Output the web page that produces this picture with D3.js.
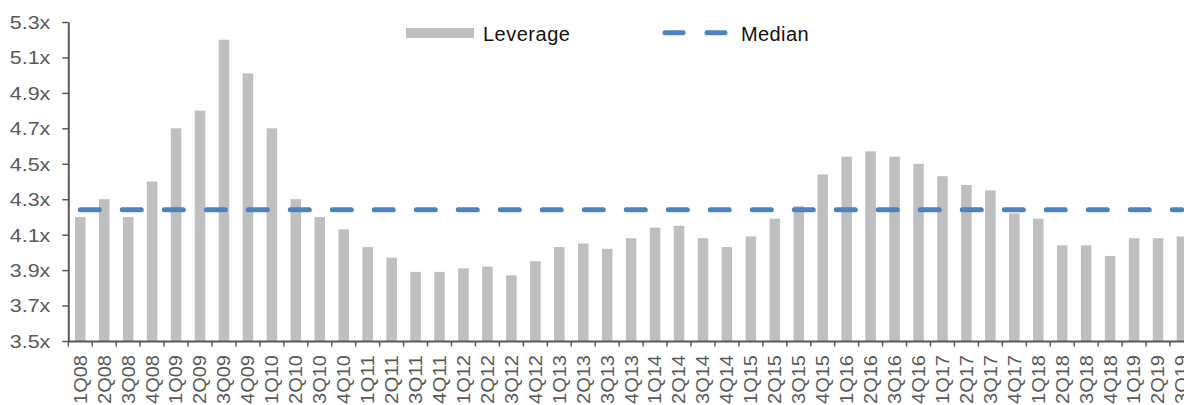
<!DOCTYPE html>
<html>
<head>
<meta charset="utf-8">
<script src="https://cdn.jsdelivr.net/npm/d3@7"></script>
<style>
  html, body { margin: 0; padding: 0; background: #fff; overflow: hidden; }
  svg { display: block; font-family: "Liberation Sans", Arial, sans-serif; }
</style>
</head>
<body>
<svg id="chart" width="1184" height="405"></svg>
<script>
const categories = ["1Q08","2Q08","3Q08","4Q08","1Q09","2Q09","3Q09","4Q09","1Q10","2Q10","3Q10","4Q10",
  "1Q11","2Q11","3Q11","4Q11","1Q12","2Q12","3Q12","4Q12","1Q13","2Q13","3Q13","4Q13",
  "1Q14","2Q14","3Q14","4Q14","1Q15","2Q15","3Q15","4Q15","1Q16","2Q16","3Q16","4Q16",
  "1Q17","2Q17","3Q17","4Q17","1Q18","2Q18","3Q18","4Q18","1Q19","2Q19","3Q19"];
const leverage = [4.20,4.30,4.20,4.40,4.70,4.80,5.20,5.01,4.70,4.30,4.20,4.13,
  4.03,3.97,3.89,3.89,3.91,3.92,3.87,3.95,4.03,4.05,4.02,4.08,
  4.14,4.15,4.08,4.03,4.09,4.19,4.26,4.44,4.54,4.57,4.54,4.50,
  4.43,4.38,4.35,4.22,4.19,4.04,4.04,3.98,4.08,4.08,4.09];
const median = 4.24;
const yTicks = [3.5,3.7,3.9,4.1,4.3,4.5,4.7,4.9,5.1,5.3];
const seriesNames = ["Leverage","Median"];

(function () {
const svg = d3.select("#chart");
const mLeft = 68.3, mBottom = 341, mTop = 22;
const step = 23.95;
const x = d3.scaleBand().domain(categories).range([mLeft, mLeft + step * categories.length]).padding(0);
const y = d3.scaleLinear().domain([3.5, 5.3]).range([mBottom, mTop]);
const barW = x.bandwidth() * 0.44;
const grey = "#595959";

// bars
svg.append("g").selectAll("rect").data(leverage).join("rect")
  .attr("x", (d, i) => x(categories[i]) + (x.bandwidth() - barW) / 2)
  .attr("y", d => y(d))
  .attr("width", barW)
  .attr("height", d => y(3.5) - y(d))
  .attr("fill", "#BEBFC1");

// median line
const line = d3.line().x(d => x(d) + x.bandwidth() / 2).y(() => y(median));
svg.append("path").datum(categories)
  .attr("d", line)
  .attr("fill", "none")
  .attr("stroke", "#4F81BD")
  .attr("stroke-width", 5)
  .attr("stroke-linecap", "round")
  .attr("stroke-dasharray", "19,23");

// y axis
const yAxis = d3.axisLeft(y).tickValues(yTicks).tickFormat(d => d3.format(".1f")(d) + "x").tickSize(6).tickSizeOuter(0);
const gy = svg.append("g").attr("transform", `translate(${mLeft},0)`).call(yAxis);
gy.select(".domain").attr("stroke", grey).attr("stroke-width", 2);
gy.selectAll(".tick line").attr("stroke", grey).attr("stroke-width", 1.5);
gy.selectAll(".tick text")
  .attr("x", -18)
  .attr("dy", "0.36em")
  .attr("fill", grey)
  .attr("font-size", 17.7)
  .attr("textLength", 40.5)
  .attr("lengthAdjust", "spacingAndGlyphs")
  .attr("font-family", "'Liberation Sans', Arial, sans-serif");

// x axis
const xAxis = d3.axisBottom(x).tickSize(0).tickSizeOuter(0);
const gx = svg.append("g").attr("transform", `translate(0,${mBottom})`).call(xAxis);
gx.select(".domain").attr("stroke", grey).attr("stroke-width", 2);
gx.selectAll(".tick line").remove();
const bounds = categories.map(c => x(c)).concat([x(categories[categories.length - 1]) + x.bandwidth()]);
gx.append("g").selectAll("line").data(bounds).join("line")
  .attr("x1", d => d).attr("x2", d => d)
  .attr("y1", 0).attr("y2", 5.5)
  .attr("stroke", grey).attr("stroke-width", 1.5);
gx.selectAll(".tick text")
  .attr("transform", "rotate(-90)")
  .attr("text-anchor", "end")
  .attr("x", -14)
  .attr("y", 0)
  .attr("dy", "0.36em")
  .attr("fill", grey)
  .attr("font-size", 17.7)
  .attr("textLength", 49)
  .attr("lengthAdjust", "spacingAndGlyphs")
  .attr("font-family", "'Liberation Sans', Arial, sans-serif");

// legend
const lg = svg.append("g");
lg.append("rect").attr("x", 406).attr("y", 28).attr("width", 68).attr("height", 10).attr("fill", "#BEBFC1");
lg.append("text").attr("x", 483).attr("y", 40.5).text(seriesNames[0])
  .attr("font-size", 20).attr("letter-spacing", 0.5).attr("fill", "#111");
lg.append("line").attr("x1", 665).attr("x2", 726).attr("y1", 32.7).attr("y2", 32.7)
  .attr("stroke", "#4F81BD").attr("stroke-width", 5).attr("stroke-linecap", "round")
  .attr("stroke-dasharray", "18,24");
lg.append("text").attr("x", 741).attr("y", 40.5).text(seriesNames[1])
  .attr("font-size", 20).attr("letter-spacing", 0.4).attr("fill", "#111");
})();
</script>
</body>
</html>
